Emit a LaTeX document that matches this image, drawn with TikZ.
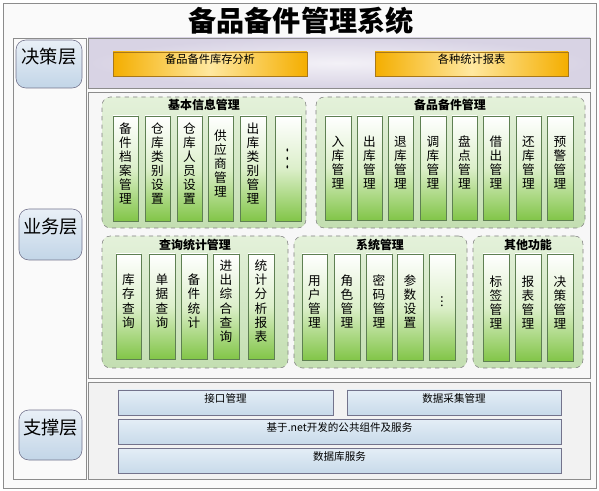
\documentclass[tikz,border=0pt]{standalone}
\usepackage{fontspec}
\setmainfont{Noto Sans CJK SC}
\usetikzlibrary{fit}
\definecolor{framegray}{HTML}{8C8C8C}
\definecolor{outerfill}{HTML}{FAFAFA}
\definecolor{panelgray}{HTML}{F2F2F2}
\definecolor{lavender}{HTML}{D8D3E4}
\definecolor{lavlight}{HTML}{F3F1F7}
\definecolor{barorange}{HTML}{F4AE00}
\definecolor{barlight}{HTML}{FFE8A0}
\definecolor{barline}{HTML}{A8781A}
\definecolor{labtop}{HTML}{E9F0F7}
\definecolor{labbot}{HTML}{C2D5E7}
\definecolor{grptop}{HTML}{E4F1DA}
\definecolor{grpbot}{HTML}{C3DEB1}
\definecolor{colgreen}{HTML}{82C548}
\definecolor{colmid}{HTML}{DCEFCA}
\definecolor{colline}{HTML}{5E7F52}
\definecolor{subtop}{HTML}{E4EEF6}
\definecolor{subbot}{HTML}{C8DAEA}
\tikzset{
  panel/.style={draw=framegray, fill=panelgray, inner sep=0pt},
  layer/.style={draw=gray!90!blue, rounded corners=7pt, top color=labtop,
    bottom color=labbot, inner sep=0pt, font=\fontsize{13}{15}\selectfont},
  decbar/.style={draw=barline, left color=barorange, right color=barorange,
    middle color=barlight, inner sep=0pt, font=\fontsize{8}{10}\selectfont},
  grp/.style={draw=gray, dashed, rounded corners=6pt, top color=grptop,
    bottom color=grpbot, inner sep=0pt},
  grptitle/.style={font=\fontsize{8.5}{10}\selectfont\bfseries},
  col/.style={draw=colline, top color=white, bottom color=colgreen,
    middle color=colmid, inner sep=0pt, align=center,
    font=\fontsize{9}{10}\selectfont},
  subbar/.style={draw=gray!90!blue, top color=subtop, bottom color=subbot,
    inner sep=0pt, font=\fontsize{7.5}{9}\selectfont}
}
\begin{document}
\begin{tikzpicture}[x=0.025cm, y=-0.025cm]
  \useasboundingbox (0,0) rectangle (599,491);
  \node[draw=framegray, fill=outerfill, inner sep=0pt, fit={(3,3) (596,488)}] (outer) {};
  \node[font=\fontsize{20}{24}\selectfont\bfseries] (title) at (301,21) {备品备件管理系统};

  % layers
  \node[panel, fill=outerfill, fit={(13,38) (86,479)}] (side) {};
  \node[panel, inner color=lavlight, outer color=lavender, fit={(88,38) (590,88)}] (dec) {};
  \node[panel, fill=panelgray!60, fit={(88,92) (590,378)}] (biz) {};
  \node[panel, fit={(88,382) (590,479)}] (sup) {};

  \node[layer, fit={(16,40) (82,88)}] (jc) {决策层};
  \node[layer, fit={(19,209) (82,260)}] (yw) {业务层};
  \node[layer, fit={(19,410) (82,460)}] (zc) {支撑层};

  % decision layer
  \node[decbar, fit={(113,52) (307,76)}] (kc) {备品备件库存分析};
  \node[decbar, fit={(375,52) (568,76)}] (bb) {各种统计报表};

  % business layer
  \node[grp, fit={(102,97) (306,228)}] (g1) {};
  \node[grptitle] (g1t) at (204,105) {基本信息管理};
  \node[col, fit={(113,116) (138,221)}] (g1a) {备\\件\\档\\案\\管\\理};
  \node[col, fit={(145,116) (170,221)}] (g1b) {仓\\库\\类\\别\\设\\置};
  \node[col, fit={(177,116) (202,221)}] (g1c) {仓\\库\\人\\员\\设\\置};
  \node[col, fit={(208,116) (233,221)}] (g1d) {供\\应\\商\\管\\理};
  \node[col, fit={(240,116) (266,221)}] (g1e) {出\\库\\类\\别\\管\\理};
  \node[col, fit={(275,116) (301,221)}] (g1f) {\scalebox{1}[2]{︙}};

  \node[grp, fit={(316,97) (585,228)}] (g2) {};
  \node[grptitle] (g2t) at (450,105) {备品备件管理};
  \node[col, fit={(325,116) (351,220)}] (g2a) {入\\库\\管\\理};
  \node[col, fit={(357,116) (382,220)}] (g2b) {出\\库\\管\\理};
  \node[col, fit={(388,116) (413,220)}] (g2c) {退\\库\\管\\理};
  \node[col, fit={(420,116) (446,220)}] (g2d) {调\\库\\管\\理};
  \node[col, fit={(452,116) (477,220)}] (g2e) {盘\\点\\管\\理};
  \node[col, fit={(483,116) (509,220)}] (g2f) {借\\出\\管\\理};
  \node[col, fit={(516,116) (541,220)}] (g2g) {还\\库\\管\\理};
  \node[col, fit={(547,116) (573,220)}] (g2h) {预\\警\\管\\理};

  \node[grp, fit={(102,236) (288,368)}] (g3) {};
  \node[grptitle] (g3t) at (195,245) {查询统计管理};
  \node[col, fit={(116,254) (141,359)}] (g3a) {库\\存\\查\\询};
  \node[col, fit={(149,254) (175,359)}] (g3b) {单\\据\\查\\询};
  \node[col, fit={(181,254) (207,359)}] (g3c) {备\\件\\统\\计};
  \node[col, fit={(213,254) (239,359)}] (g3d) {进\\出\\综\\合\\查\\询};
  \node[col, fit={(248,254) (274,359)}] (g3e) {统\\计\\分\\析\\报\\表};

  \node[grp, fit={(294,236) (467,368)}] (g4) {};
  \node[grptitle] (g4t) at (380,245) {系统管理};
  \node[col, fit={(302,254) (327,360)}] (g4a) {用\\户\\管\\理};
  \node[col, fit={(334,254) (360,360)}] (g4b) {角\\色\\管\\理};
  \node[col, fit={(366,254) (392,360)}] (g4c) {密\\码\\管\\理};
  \node[col, fit={(397,254) (423,360)}] (g4d) {参\\数\\设\\置};
  \node[col, fit={(429,254) (455,360)}] (g4e) {︙};

  \node[grp, fit={(473,236) (583,368)}] (g5) {};
  \node[grptitle] (g5t) at (528,245) {其他功能};
  \node[col, fit={(483,254) (509,361)}] (g5a) {标\\签\\管\\理};
  \node[col, fit={(515,254) (541,361)}] (g5b) {报\\表\\管\\理};
  \node[col, fit={(547,254) (573,361)}] (g5c) {决\\策\\管\\理};

  % support layer
  \node[subbar, fit={(118,390) (333,415)}] (jk) {接口管理};
  \node[subbar, fit={(347,390) (561,415)}] (sj) {数据采集管理};
  \node[subbar, fit={(118,419) (561,444)}] (gg) {基于.net开发的公共组件及服务};
  \node[subbar, fit={(118,448) (561,473)}] (db) {数据库服务};
\end{tikzpicture}
\end{document}
